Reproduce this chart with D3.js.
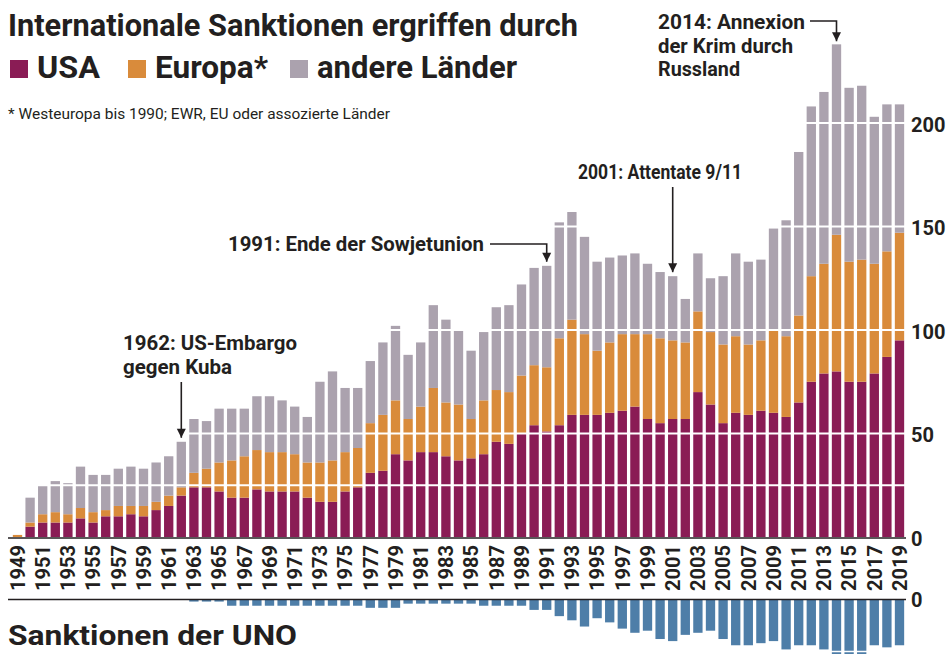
<!DOCTYPE html>
<html>
<head>
<meta charset="utf-8">
<script src="https://cdn.jsdelivr.net/npm/d3@7"></script>
<style>
body { margin: 0; background: #fff; }
text { font-family: Roboto, 'Liberation Sans', Arial, sans-serif; fill: #231f20; }
</style>
</head>
<body>
<div id="chart"></div>
<script>
//Datos
const years = d3.range(1949, 2020)
const usa = [0,5,7,7,7,9,7,10,10,11,10,13,15,20,24,24,22,19,19,23,22,22,22,19,17,17,22,24,31,32,40,37,41,41,39,37,38,40,46,45,50,54,51,54,59,59,59,60,61,63,57,55,57,57,70,64,55,60,59,61,60,58,65,75,79,80,75,75,79,87,95]
const europa = [1,2,4,5,4,5,5,3,5,4,5,4,5,4,7,9,14,18,20,19,19,19,18,17,19,20,19,19,24,27,26,20,22,31,26,27,19,26,25,25,28,29,31,42,46,39,31,34,37,35,41,41,38,37,39,35,38,37,34,34,40,39,42,51,53,66,58,59,53,51,52]
const andere = [0,12,14,15,15,20,18,17,18,19,18,19,19,22,26,23,26,25,23,26,27,25,23,22,39,43,31,29,30,35,36,31,31,40,40,36,33,33,40,42,44,47,49,56,52,47,43,41,38,39,34,32,31,21,28,26,33,40,40,39,49,56,79,82,83,92,84,84,71,71,62]
const uno = [0,0,0,0,0,0,0,0,0,0,0,0,0,0,1,1,1,3,3,3,3,3,3,3,3,3,3,3,4,4,4,2,2,2,2,2,2,3,3,3,3,5,5,8,10,13,9,11,14,16,15,19,20,17,16,15,19,22,22,21,20,24,22,22,24,27,27,27,22,23,22]

const keys = ['usa', 'europa', 'andere']
const legendLabels = ['USA', 'Europa*', 'andere Länder']
const colors = ['#8a1c55', '#d98b3b', '#aba2ae']
const unoColor = '#4e7ea8'
const yTicks = [0, 50, 100, 150, 200]
const gridValues = [25, 50, 100, 150, 200]
const labelYears = years.filter(d => d % 2 === 1)

const title = 'Internationale Sanktionen ergriffen durch'
const footnote = '* Westeuropa bis 1990; EWR, EU oder assozierte Länder'
const unoTitle = 'Sanktionen der UNO'

//Constantes
const width = 947
const height = 654
const dark = '#231f20'

const table = years.map((year, i) => ({ year, usa: usa[i], europa: europa[i], andere: andere[i], uno: uno[i] }))
const totalOf = year => { const r = table.find(d => d.year === year); return r.usa + r.europa + r.andere }

const svg = d3.select('#chart').append('svg')
    .attr('width', width)
    .attr('height', height)

function fit(sel, w) {
    sel.attr('textLength', w).attr('lengthAdjust', 'spacingAndGlyphs')
    return sel
}

//Escalas
const x = d3.scaleBand()
    .domain(years)
    .range([11.2, 11.2 + 71 * 12.6])
    .paddingInner(0.26)
    .paddingOuter(0.13)

const y = d3.scaleLinear()
    .domain([0, 200])
    .range([537, 123])

const yUno = d3.scaleLinear()
    .domain([0, 25])
    .range([599.5, 651.5])

const cx = year => x(year) + x.bandwidth() / 2

//Barras apiladas
const stack = d3.stack().keys(keys)(table)

svg.append('g')
    .selectAll('g')
    .data(stack)
    .enter()
    .append('g')
    .attr('fill', (d, i) => colors[i])
    .selectAll('rect')
    .data(d => d)
    .enter()
    .append('rect')
    .attr('x', d => x(d.data.year))
    .attr('width', x.bandwidth())
    .attr('y', d => y(d[1]))
    .attr('height', d => y(d[0]) - y(d[1]))

//Lineas blancas
svg.append('g')
    .selectAll('line')
    .data(gridValues)
    .enter()
    .append('line')
    .attr('x1', 8)
    .attr('x2', 906)
    .attr('y1', d => y(d))
    .attr('y2', d => y(d))
    .attr('stroke', '#fff')
    .attr('stroke-width', 2)

//Linea base
svg.append('line')
    .attr('x1', 8).attr('x2', 906)
    .attr('y1', y(0) + 1).attr('y2', y(0) + 1)
    .attr('stroke', dark)
    .attr('stroke-width', 1.5)

//Eje X (años)
const axisX = svg.append('g')
    .attr('transform', `translate(0, ${y(0)})`)
    .call(d3.axisBottom(x).tickValues(labelYears).tickSize(0))
axisX.select('.domain').remove()
axisX.selectAll('text')
    .attr('transform', 'rotate(-90)')
    .attr('text-anchor', 'end')
    .attr('x', -8)
    .attr('y', 0)
    .attr('dy', '0.36em')
    .style('font-size', '20px')
    .style('font-weight', 700)
    .style('fill', dark)

//Eje Y derecho
const axisY = svg.append('g')
    .attr('transform', 'translate(911, 2)')
    .call(d3.axisRight(y).tickValues(yTicks).tickSize(0).tickPadding(0))
axisY.select('.domain').remove()
axisY.selectAll('text')
    .style('font-size', '20px')
    .style('font-weight', 700)
    .style('fill', dark)

//Sanciones ONU
svg.append('g')
    .attr('fill', unoColor)
    .selectAll('rect')
    .data(table)
    .enter()
    .append('rect')
    .attr('x', d => x(d.year))
    .attr('width', x.bandwidth())
    .attr('y', yUno(0))
    .attr('height', d => yUno(d.uno) - yUno(0))

svg.append('line')
    .attr('x1', 8).attr('x2', 906)
    .attr('y1', yUno(25)).attr('y2', yUno(25))
    .attr('stroke', '#fff')
    .attr('stroke-width', 1.5)

svg.append('line')
    .attr('x1', 8).attr('x2', 906)
    .attr('y1', yUno(0)).attr('y2', yUno(0))
    .attr('stroke', dark)
    .attr('stroke-width', 1.5)

const axisUno = svg.append('g')
    .attr('transform', 'translate(911, 1)')
    .call(d3.axisRight(yUno).tickValues([0]).tickSize(0).tickPadding(0))
axisUno.select('.domain').remove()
axisUno.selectAll('text')
    .style('font-size', '20px')
    .style('font-weight', 700)
    .style('fill', dark)

//Titulos
fit(svg.append('text')
    .attr('x', 8).attr('y', 36)
    .style('font-size', '31px')
    .style('font-weight', 700)
    .text(title), 570)

const legendX = [10, 128, 290]
const legendW = [63, 113, 200]
const legend = svg.append('g')
legendLabels.forEach((label, i) => {
    legend.append('rect')
        .attr('x', legendX[i]).attr('y', 60)
        .attr('width', 18).attr('height', 18)
        .attr('fill', colors[i])
    fit(legend.append('text')
        .attr('x', legendX[i] + 27).attr('y', 78)
        .style('font-size', '31px')
        .style('font-weight', 700)
        .text(label), legendW[i])
})

fit(svg.append('text')
    .attr('x', 8).attr('y', 119)
    .style('font-size', '15px')
    .text(footnote), 382)

fit(svg.append('text')
    .attr('x', 8).attr('y', 645)
    .style('font-size', '28px')
    .style('font-weight', 700)
    .text(unoTitle), 289)

//Anotaciones
const notes = svg.append('g')

function noteText(lines, x0, y0, widths) {
    lines.forEach((t, i) => {
        fit(notes.append('text')
            .attr('x', x0).attr('y', y0 + i * 23.5)
            .style('font-size', '20px')
            .style('font-weight', 700)
            .text(t), widths[i])
    })
}

function arrow(points) {
    notes.append('path')
        .attr('d', d3.line()(points))
        .attr('fill', 'none')
        .attr('stroke', dark)
        .attr('stroke-width', 1.6)
    const [tx, ty] = points[points.length - 1]
    notes.append('path')
        .attr('d', `M${tx - 4.5},${ty - 9}L${tx + 4.5},${ty - 9}L${tx},${ty}Z`)
        .attr('fill', dark)
}

noteText(['2014: Annexion', 'der Krim durch', 'Russland'], 658, 29, [147, 135, 82])
arrow([[810, 21], [cx(2014), 21], [cx(2014), y(totalOf(2014)) - 3]])

noteText(['2001: Attentate 9/11'], 578, 179, [164])
arrow([[cx(2001), 187], [cx(2001), y(totalOf(2001)) - 4]])

noteText(['1991: Ende der Sowjetunion'], 228, 251, [256])
arrow([[490, 244], [cx(1991), 244], [cx(1991), y(totalOf(1991)) - 4]])

noteText(['1962: US-Embargo', 'gegen Kuba'], 123, 350, [174, 109])
arrow([[cx(1962), 382], [cx(1962), y(totalOf(1962)) - 4]])
</script>
</body>
</html>
